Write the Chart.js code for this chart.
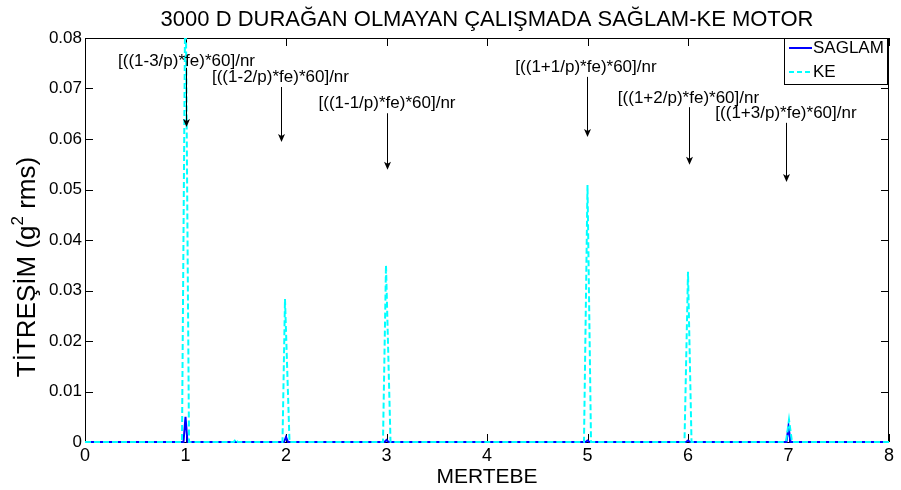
<!DOCTYPE html>
<html><head><meta charset="utf-8">
<script src="https://cdn.jsdelivr.net/npm/chart.js@4"></script>
<style>html,body{margin:0;padding:0;background:#fff;}canvas{display:block;}</style>
</head><body>
<canvas id="c" width="901" height="490"></canvas>
<script>
const chartTitle = '3000 D DURAĞAN OLMAYAN ÇALIŞMADA SAĞLAM-KE MOTOR';
const xAxisTitle = 'MERTEBE';
const yAxisTitleParts = ['TİTREŞİM (g', '2', ' rms)'];
const seriesNames = ['SAGLAM', 'KE'];
const xTickValues = [0, 1, 2, 3, 4, 5, 6, 7, 8];
const yTickValues = [0, 0.01, 0.02, 0.03, 0.04, 0.05, 0.06, 0.07, 0.08];

const saglamX = [0, 0.98, 1.0, 1.02, 1.98, 2.0, 2.02, 2.98, 3.0, 3.02, 4.98, 5.0, 5.02, 5.98, 6.0, 6.02, 6.98, 7.0, 7.02, 8];
const saglamY = [0, 0, 0.0050, 0, 0, 0.0010, 0, 0, 0.0004, 0, 0, 0.0003, 0, 0, 0.0003, 0, 0, 0.0031, 0, 0];

const keX = [0, 0.965, 1.0, 1.035, 1.48, 1.5, 1.52, 1.965, 1.99, 2.035, 2.965, 2.995, 3.04, 4.965, 5.0, 5.035, 5.965, 6.0, 6.035, 6.975, 7.005, 7.035, 8];
const keY = [0, 0, 0.095, 0, 0, 0.0006, 0, 0, 0.0283, 0, 0, 0.0350, 0, 0, 0.0509, 0, 0, 0.0337, 0, 0, 0.0044, 0, 0];

const annotationTexts = ['[((1-3/p)*fe)*60]/nr', '[((1-2/p)*fe)*60]/nr', '[((1-1/p)*fe)*60]/nr', '[((1+1/p)*fe)*60]/nr', '[((1+2/p)*fe)*60]/nr', '[((1+3/p)*fe)*60]/nr'];
const annotationTextX = [1.01, 1.945, 3.005, 4.985, 6.005, 6.975];
const annotationTextY = [0.0754, 0.0723, 0.0671, 0.0741, 0.0681, 0.0651];
const arrowX = [1.002, 1.95, 3.005, 4.995, 6.01, 6.975];
const arrowTopY = [0.0741, 0.0703, 0.0651, 0.0723, 0.0663, 0.0632];
const arrowTipY = [0.0624, 0.0594, 0.0539, 0.0604, 0.0549, 0.0515];

const FONT = '"Liberation Sans", Arial, Helvetica, sans-serif';

const toPoints = (xs, ys) => xs.map((x, i) => ({ x: x, y: ys[i] }));

const framePlugin = {
  id: 'frame',
  beforeDatasetsDraw(chart) {
    const { ctx, chartArea: a, scales } = chart;
    ctx.save();
    ctx.strokeStyle = '#000';
    ctx.lineWidth = 1;
    ctx.strokeRect(Math.round(a.left) + 0.5, Math.round(a.top) + 0.5, Math.round(a.right - a.left) - 1, Math.round(a.bottom - a.top));
    ctx.beginPath();
    const tl = 8;
    xTickValues.forEach(v => {
      const px = Math.round(scales.x.getPixelForValue(v)) + 0.5;
      ctx.moveTo(px, a.bottom); ctx.lineTo(px, a.bottom - tl);
      ctx.moveTo(px, a.top); ctx.lineTo(px, a.top + tl);
    });
    yTickValues.forEach(v => {
      const py = Math.round(scales.y.getPixelForValue(v)) + 0.5;
      ctx.moveTo(a.left, py); ctx.lineTo(a.left + tl, py);
      ctx.moveTo(a.right, py); ctx.lineTo(a.right - tl, py);
    });
    ctx.stroke();
    ctx.restore();
  },
  afterDatasetsDraw(chart) {
    const { ctx, chartArea: a, scales } = chart;
    ctx.save();
    ctx.fillStyle = '#000';
    ctx.font = '22px ' + FONT;
    ctx.textAlign = 'center';
    ctx.textBaseline = 'middle';
    ctx.fillText(chartTitle, (a.left + a.right) / 2, 20);
    ctx.font = '21px ' + FONT;
    ctx.fillText(xAxisTitle, (a.left + a.right) / 2, 477);
    ctx.save();
    ctx.translate(35, 267);
    ctx.rotate(-Math.PI / 2);
    ctx.textAlign = 'left';
    ctx.textBaseline = 'alphabetic';
    const bigF = '26px ' + FONT, smallF = '17px ' + FONT;
    ctx.font = bigF; const w0 = ctx.measureText(yAxisTitleParts[0]).width;
    ctx.font = smallF; const w1 = ctx.measureText(yAxisTitleParts[1]).width;
    ctx.font = bigF; const w2 = ctx.measureText(yAxisTitleParts[2]).width;
    let sx = -(w0 + w1 + w2) / 2;
    ctx.font = bigF; ctx.fillText(yAxisTitleParts[0], sx, 0); sx += w0;
    ctx.font = smallF; ctx.fillText(yAxisTitleParts[1], sx, -12); sx += w1;
    ctx.font = bigF; ctx.fillText(yAxisTitleParts[2], sx, 0);
    ctx.restore();
    ctx.font = '17px ' + FONT;
    ctx.textAlign = 'center';
    ctx.textBaseline = 'middle';
    ctx.strokeStyle = '#000';
    ctx.lineWidth = 1;
    annotationTexts.forEach((t, i) => {
      ctx.fillText(t, scales.x.getPixelForValue(annotationTextX[i]), scales.y.getPixelForValue(annotationTextY[i]));
      const ax = Math.round(scales.x.getPixelForValue(arrowX[i])) + 0.5;
      const y0 = scales.y.getPixelForValue(arrowTopY[i]);
      const y1 = scales.y.getPixelForValue(arrowTipY[i]);
      ctx.beginPath(); ctx.moveTo(ax, y0); ctx.lineTo(ax, y1 - 4); ctx.stroke();
      ctx.beginPath(); ctx.moveTo(ax, y1); ctx.lineTo(ax - 3.5, y1 - 8); ctx.lineTo(ax, y1 - 6); ctx.lineTo(ax + 3.5, y1 - 8); ctx.closePath(); ctx.fill();
    });
    const lx = 784, ly = Math.round(a.top), lw = 103, lh = 46;
    ctx.fillStyle = '#fff';
    ctx.fillRect(lx, ly, lw, lh);
    ctx.strokeStyle = '#000';
    ctx.strokeRect(lx + 0.5, ly + 0.5, lw, lh);
    ctx.lineWidth = 2;
    ctx.strokeStyle = chart.data.datasets[0].borderColor;
    ctx.beginPath(); ctx.moveTo(789, ly + 10); ctx.lineTo(812, ly + 10); ctx.stroke();
    ctx.strokeStyle = chart.data.datasets[1].borderColor;
    ctx.setLineDash([5, 3]);
    ctx.beginPath(); ctx.moveTo(789, ly + 34); ctx.lineTo(812, ly + 34); ctx.stroke();
    ctx.setLineDash([]);
    ctx.fillStyle = '#000';
    ctx.font = '17px ' + FONT;
    ctx.textAlign = 'left';
    ctx.fillText(seriesNames[0], 813, ly + 10);
    ctx.fillText(seriesNames[1], 813, ly + 34);
    ctx.restore();
  }
};

new Chart(document.getElementById('c').getContext('2d'), {
  type: 'scatter',
  data: {
    datasets: [
      { label: seriesNames[0], data: toPoints(saglamX, saglamY), showLine: true, borderColor: '#0000ff', backgroundColor: '#0000ff', borderWidth: 2, pointRadius: 0, tension: 0, order: 2, clip: { left: 0, top: 0, right: 0, bottom: 3 } },
      { label: seriesNames[1], data: toPoints(keX, keY), showLine: true, borderColor: '#00ffff', backgroundColor: '#00ffff', borderWidth: 2, borderDash: [6, 3], pointRadius: 0, tension: 0, order: 1, clip: { left: 0, top: 0, right: 0, bottom: 3 } }
    ]
  },
  options: {
    responsive: false,
    animation: false,
    devicePixelRatio: 1,
    layout: { padding: { left: 0, top: 38, right: 12, bottom: 0 } },
    plugins: { legend: { display: false }, title: { display: false }, tooltip: { enabled: false } },
    scales: {
      x: {
        type: 'linear', min: 0, max: 8,
        afterBuildTicks: s => { s.ticks = xTickValues.map(v => ({ value: v })); },
        afterFit: s => { s.height = 48; },
        grid: { display: false, drawTicks: false }, border: { display: false },
        ticks: { color: '#000', font: { family: FONT, size: 18 }, padding: 3, maxRotation: 0, autoSkip: false, callback: v => String(v) }
      },
      y: {
        type: 'linear', min: 0, max: 0.08,
        afterBuildTicks: s => { s.ticks = yTickValues.map(v => ({ value: v })); },
        afterFit: s => { s.width = 85; },
        grid: { display: false, drawTicks: false }, border: { display: false },
        ticks: { color: '#000', font: { family: FONT, size: 17 }, padding: 3, autoSkip: false, callback: v => (v === 0 ? '0' : Number(v).toFixed(2)) }
      }
    }
  },
  plugins: [framePlugin]
});
</script>
</body></html>
